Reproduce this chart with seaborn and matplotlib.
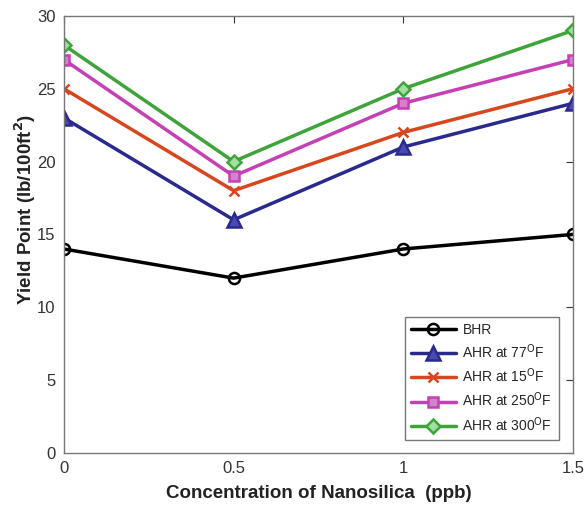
import matplotlib
matplotlib.use("Agg")
import matplotlib.pyplot as plt
import seaborn as sns
import pandas as pd

sns.set_style("white")
plt.rcParams['font.family'] = ['Liberation Sans', 'DejaVu Sans']

concentration = [0, 0.5, 1, 1.5]
bhr = [14, 12, 14, 15]
ahr_77 = [23, 16, 21, 24]
ahr_15 = [25, 18, 22, 25]
ahr_250 = [27, 19, 24, 27]
ahr_300 = [28, 20, 25, 29]
labels = ["BHR", "AHR at 77$^{\\mathrm{O}}$F", "AHR at 15$^{\\mathrm{O}}$F",
          "AHR at 250$^{\\mathrm{O}}$F", "AHR at 300$^{\\mathrm{O}}$F"]
series = [bhr, ahr_77, ahr_15, ahr_250, ahr_300]

colors = ["#000000", "#2a2a8e", "#d8461e", "#c440b4", "#3ea43a"]
markers = ["o", "^", "x", "s", "D"]
faces = ["none", "#4a4ab0", "#d8461e", "#d880d0", "#a0e0a0"]
msizes = [8, 10, 6.5, 7.5, 7.5]

fig = plt.figure(figsize=(5.85, 5.09), dpi=100)
ax = fig.add_axes([0.109, 0.110, 0.871, 0.859])

for y, lab, c, m, fc, ms in zip(series, labels, colors, markers, faces, msizes):
    df = pd.DataFrame({"x": concentration, "y": y})
    sns.lineplot(data=df, x="x", y="y", ax=ax, color=c, linewidth=2.5,
                 marker=m, markersize=ms, markerfacecolor=fc,
                 markeredgecolor=c, markeredgewidth=1.8, label=lab)

ax.set_xlim(0, 1.5)
ax.set_ylim(0, 30)
ax.set_xticks([0, 0.5, 1, 1.5])
ax.set_xticklabels(["0", "0.5", "1", "1.5"])
ax.set_yticks([0, 5, 10, 15, 20, 25, 30])
ax.tick_params(direction="in", length=5, labelsize=12, colors="#333333",
               top=True, right=True, pad=6)
for s in ax.spines.values():
    s.set_color("#777777")
    s.set_linewidth(1.0)

ax.set_xlabel("Concentration of Nanosilica  (ppb)", fontsize=13.5, fontweight="bold",
              color="#222222", labelpad=6)
ax.set_ylabel("Yield Point (lb/100ft$^{\\mathbf{2}}$)", fontsize=13.5, fontweight="bold",
              color="#222222")
ax.yaxis.set_label_coords(-0.051, 0.558)

leg = ax.legend(loc="lower right", fontsize=10, frameon=True, fancybox=False,
                edgecolor="#555555", handlelength=3.2, borderpad=0.45,
                labelspacing=0.4, handletextpad=0.5, borderaxespad=0,
                bbox_to_anchor=(0.971, 0.03))
leg.get_frame().set_linewidth(1.0)

fig.savefig("out.png", dpi=100)
